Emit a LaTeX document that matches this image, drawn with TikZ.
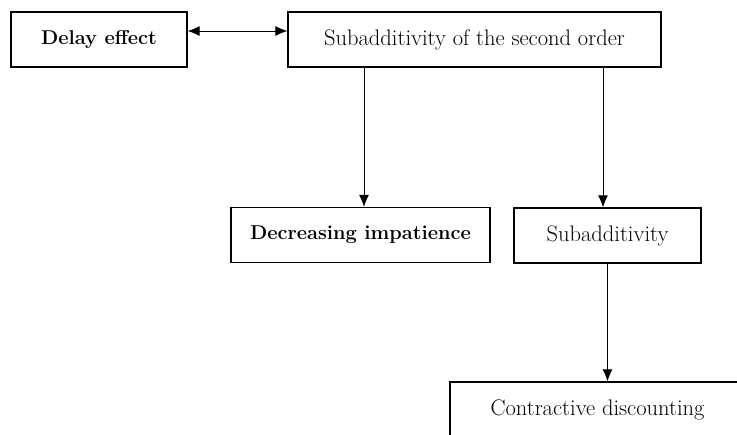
\documentclass[tikz,border=0pt]{standalone}
\usepackage{tikz}
\usetikzlibrary{arrows.meta,positioning}

\begin{document}
\begin{tikzpicture}[x=1pt,y=1pt,>={Latex[length=12pt,width=10pt]},
  box/.style={draw,line width=1.2pt,rectangle,minimum height=55pt,inner sep=0pt,font=\fontsize{22.5}{26}\selectfont},
  boldbox/.style={box,font=\fontsize{20}{24}\selectfont\bfseries},
  link/.style={line width=0.9pt}]
\useasboundingbox (0,0) rectangle (737,-435);
\node[boldbox,minimum width=176pt] (delay) at (99,-39.5) {Delay effect};
\node[box,minimum width=373pt] (subadd_2) at (474.5,-39.5) {Subadditivity of the second order};
\node[boldbox,minimum width=259pt] (decr) at (360.5,-235) {Decreasing impatience};
\node[box,minimum width=187pt] (subadd) at (607.5,-235.5) {Subadditivity};
\node[box,minimum width=295pt] (contr) at (597.5,-409.5) {Contractive discounting};
\path[link]
  ([yshift=8.5pt]delay.east) edge[<->] ([yshift=8.5pt]subadd_2.west)
  (subadd_2.south -| decr.north) ++(3.5,0) edge[->] ([xshift=3.5pt]decr.north)
  (subadd_2.south -| subadd.north) ++(-4.5,0) edge[->] ([xshift=-4.5pt]subadd.north)
  (subadd.south) edge[->] (subadd.south |- contr.north)
  ;
\end{tikzpicture}
\end{document}
